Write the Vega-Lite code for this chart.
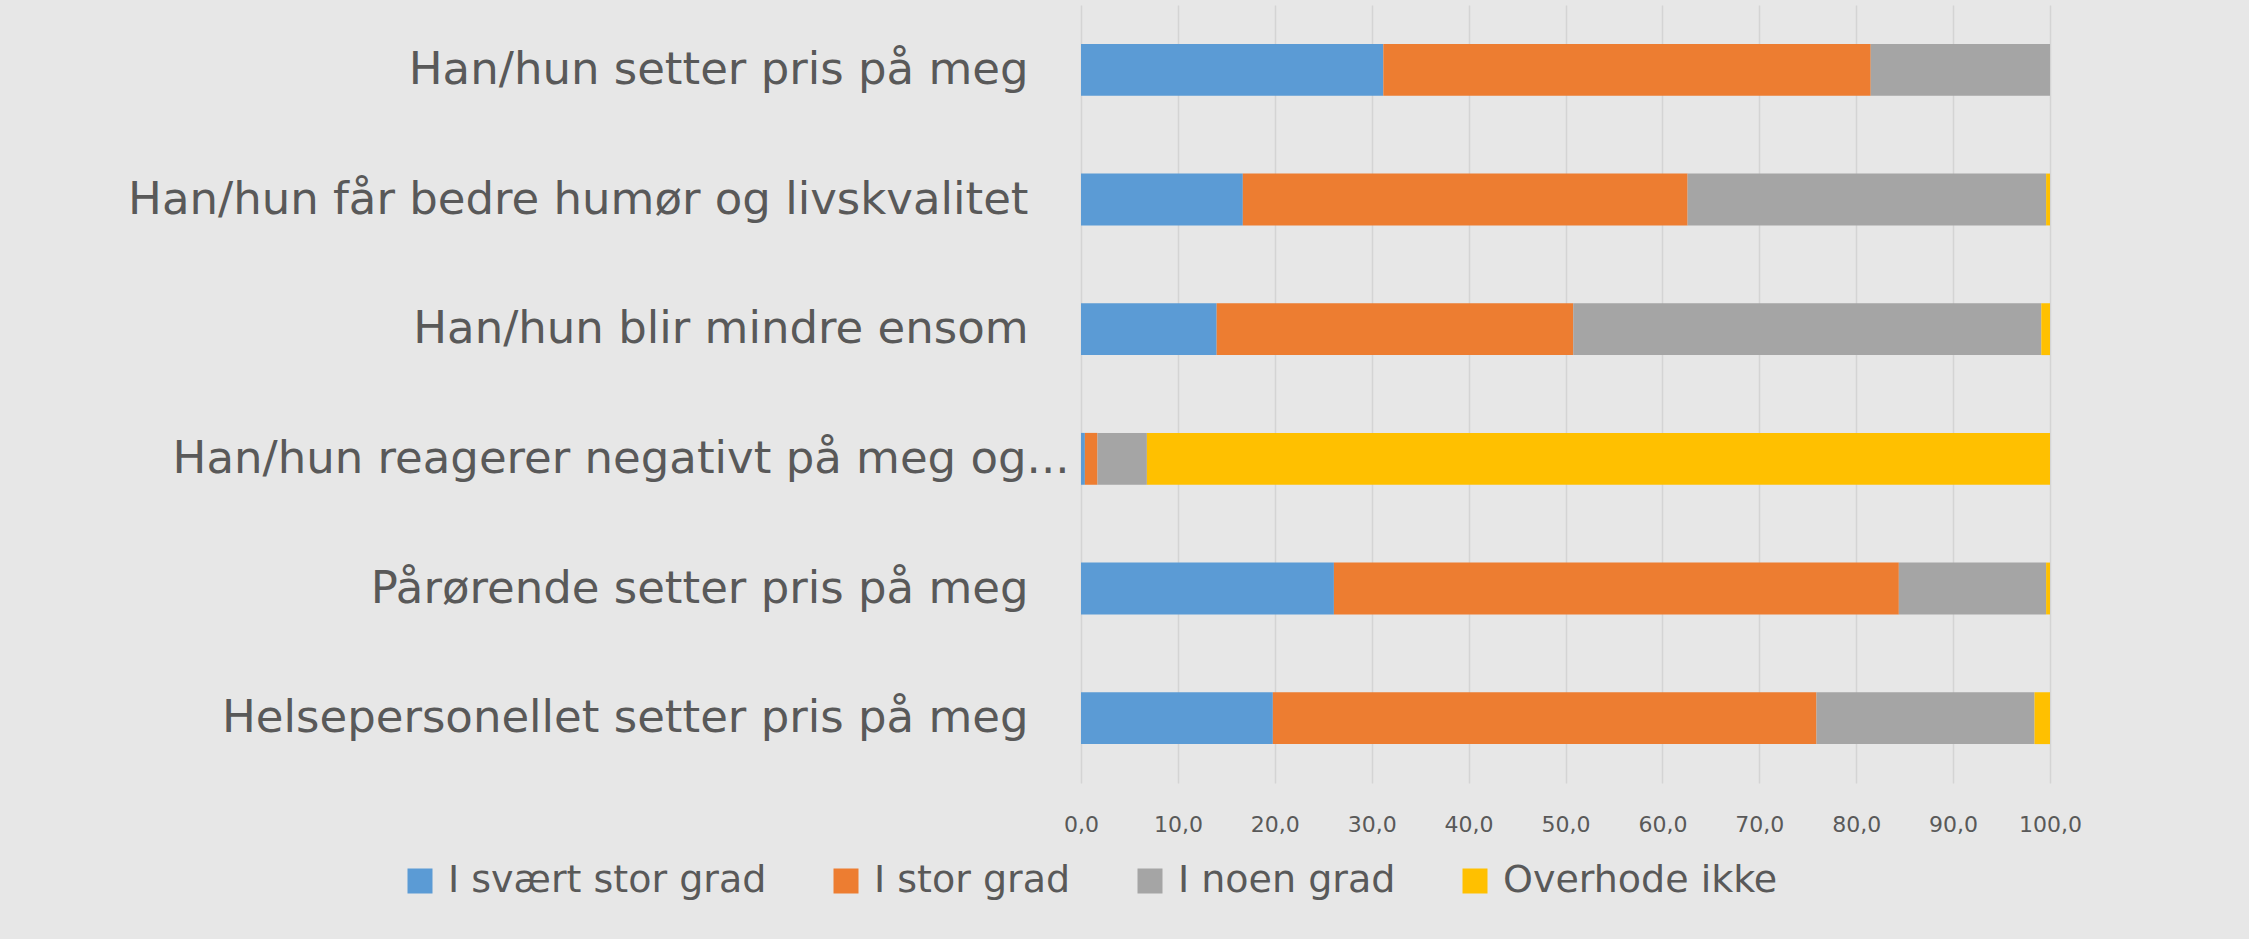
{
  "$schema": "https://vega.github.io/schema/vega-lite/v6.json",
  "width": 969,
  "height": 778,
  "autosize": {"type": "none"},
  "padding": {"left": 1081, "top": 5, "right": 199, "bottom": 156},
  "background": "#e7e7e7",
  "config": {
    "view": {"stroke": null},
    "font": "DejaVu Sans"
  },
  "data": {
    "values": [
      {"item": "Han/hun setter pris på meg", "svar": "I svært stor grad", "rank": 1, "pct": 31.2},
      {"item": "Han/hun setter pris på meg", "svar": "I stor grad", "rank": 2, "pct": 50.3},
      {"item": "Han/hun setter pris på meg", "svar": "I noen grad", "rank": 3, "pct": 18.5},
      {"item": "Han/hun setter pris på meg", "svar": "Overhode ikke", "rank": 4, "pct": 0},
      {"item": "Han/hun får bedre humør og livskvalitet", "svar": "I svært stor grad", "rank": 1, "pct": 16.7},
      {"item": "Han/hun får bedre humør og livskvalitet", "svar": "I stor grad", "rank": 2, "pct": 45.9},
      {"item": "Han/hun får bedre humør og livskvalitet", "svar": "I noen grad", "rank": 3, "pct": 37.0},
      {"item": "Han/hun får bedre humør og livskvalitet", "svar": "Overhode ikke", "rank": 4, "pct": 0.4},
      {"item": "Han/hun blir mindre ensom", "svar": "I svært stor grad", "rank": 1, "pct": 14.0},
      {"item": "Han/hun blir mindre ensom", "svar": "I stor grad", "rank": 2, "pct": 36.8},
      {"item": "Han/hun blir mindre ensom", "svar": "I noen grad", "rank": 3, "pct": 48.3},
      {"item": "Han/hun blir mindre ensom", "svar": "Overhode ikke", "rank": 4, "pct": 0.9},
      {"item": "Han/hun reagerer negativt på meg og...", "svar": "I svært stor grad", "rank": 1, "pct": 0.4},
      {"item": "Han/hun reagerer negativt på meg og...", "svar": "I stor grad", "rank": 2, "pct": 1.3},
      {"item": "Han/hun reagerer negativt på meg og...", "svar": "I noen grad", "rank": 3, "pct": 5.1},
      {"item": "Han/hun reagerer negativt på meg og...", "svar": "Overhode ikke", "rank": 4, "pct": 93.2},
      {"item": "Pårørende setter pris på meg", "svar": "I svært stor grad", "rank": 1, "pct": 26.1},
      {"item": "Pårørende setter pris på meg", "svar": "I stor grad", "rank": 2, "pct": 58.3},
      {"item": "Pårørende setter pris på meg", "svar": "I noen grad", "rank": 3, "pct": 15.2},
      {"item": "Pårørende setter pris på meg", "svar": "Overhode ikke", "rank": 4, "pct": 0.4},
      {"item": "Helsepersonellet setter pris på meg", "svar": "I svært stor grad", "rank": 1, "pct": 19.8},
      {"item": "Helsepersonellet setter pris på meg", "svar": "I stor grad", "rank": 2, "pct": 56.1},
      {"item": "Helsepersonellet setter pris på meg", "svar": "I noen grad", "rank": 3, "pct": 22.5},
      {"item": "Helsepersonellet setter pris på meg", "svar": "Overhode ikke", "rank": 4, "pct": 1.6}
    ]
  },
  "mark": {"type": "bar"},
  "encoding": {
    "y": {
      "field": "item",
      "type": "nominal",
      "sort": null,
      "scale": {"paddingInner": 0.6, "paddingOuter": 0.3},
      "axis": {
        "title": null,
        "domain": false,
        "ticks": false,
        "grid": false,
        "labelFontSize": 45,
        "labelColor": "#595959",
        "labelPadding": {"condition": {"test": "indexof(datum.value, 'og...') >= 0", "value": 12}, "value": 53},
        "labelLimit": 1100
      }
    },
    "x": {
      "field": "pct",
      "type": "quantitative",
      "stack": "zero",
      "scale": {"domain": [0, 100], "nice": false},
      "axis": {
        "title": null,
        "values": [0, 10, 20, 30, 40, 50, 60, 70, 80, 90, 100],
        "labelExpr": "replace(format(datum.value, '.1f'), '.', ',')",
        "domain": false,
        "ticks": false,
        "grid": true,
        "gridColor": "#d4d4d4",
        "gridWidth": 1.5,
        "labelFontSize": 22,
        "labelColor": "#595959",
        "labelPadding": 31,
        "labelFlush": false,
        "labelOverlap": false
      }
    },
    "color": {
      "field": "svar",
      "type": "nominal",
      "scale": {
        "domain": ["I svært stor grad", "I stor grad", "I noen grad", "Overhode ikke"],
        "range": ["#5b9bd5", "#ed7d31", "#a5a5a5", "#ffc000"]
      },
      "legend": {
        "title": null,
        "orient": "none",
        "direction": "horizontal",
        "columns": 4,
        "legendX": -680,
        "legendY": 857,
        "symbolType": "square",
        "symbolSize": 625,
        "symbolStrokeWidth": 0,
        "symbolOpacity": 1,
        "labelFontSize": 38,
        "labelColor": "#595959",
        "labelOffset": 9,
        "columnPadding": 60,
        "labelLimit": 600
      }
    },
    "order": {"field": "rank", "type": "quantitative"}
  }
}
